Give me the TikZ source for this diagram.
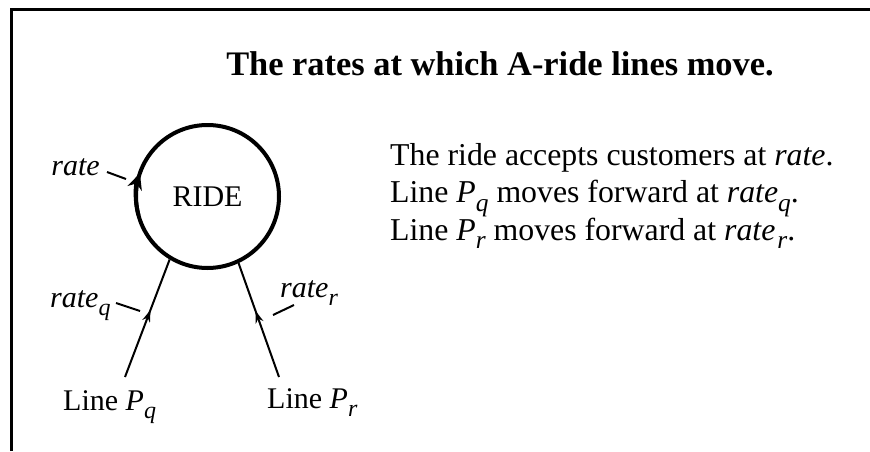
\documentclass[tikz,border=0pt]{standalone}
\usepackage{fontspec}
\setmainfont{Liberation Serif}
\usetikzlibrary{arrows.meta,decorations.markings}
\newcommand{\isub}[1]{\raisebox{-0.28em}{\fontsize{24}{24}\selectfont\itshape #1}}
\newcommand{\jsub}[1]{\raisebox{-0.28em}{\fontsize{25.4}{25.4}\selectfont\itshape #1}}
\begin{document}
\begin{tikzpicture}[x=1pt,y=1pt,
  txt/.style={inner sep=0pt, font=\fontsize{30}{37.5}\selectfont},
  desc/.style={inner sep=0pt, font=\fontsize{31.8}{37.5}\selectfont},
  ttl/.style={inner sep=0pt, font=\fontsize{34.4}{40}\selectfont\bfseries},
  feed/.style={line width=2pt, postaction={decorate},
    decoration={markings, mark=at position #1 with {\arrow{Stealth[length=12pt,width=8pt]}}}},
  tickline/.style={line width=2pt},
]
\useasboundingbox (0,0) rectangle (870,451);
\draw[line width=3pt] (11.5,0) -- (11.5,441.3) -- (870,441.3);

\node[ttl, anchor=base] (title) at (500,375) {The rates at which A-ride lines move.};

\node[circle, draw, line width=4pt, minimum size=143pt, inner sep=0pt,
      font=\fontsize{30}{36}\selectfont] (ride) at (207.5,254.5) {RIDE};
\draw[line width=4pt, -{Stealth[length=16pt,width=15pt]}]
  (ride.center) ++(195:71.5) arc[start angle=195, end angle=161, radius=71.5];

\coordinate (q0) at (125,74);
\coordinate (r0) at (279,74);
\draw[feed=0.57] (q0) -- (ride.239);
\draw[feed=0.58] (r0) -- (ride.295);

\node[txt, anchor=base east] (rate) at (100,276) {\textit{rate}};
\coordinate (t1a) at (107,279); \coordinate (t1b) at (126,272);
\draw[tickline] (t1a) -- (t1b);

\node[txt, anchor=base west] (rq) at (50,144) {\textit{rate}\isub{q}};
\coordinate (t2a) at (116,148); \coordinate (t2b) at (140,140);
\draw[tickline] (t2a) -- (t2b);

\node[txt, anchor=base west] (rr) at (280,154) {\textit{rate}\isub{r}};
\coordinate (t3a) at (273,136); \coordinate (t3b) at (294,146);
\draw[tickline] (t3a) -- (t3b);

\node[txt, anchor=base west] (lq) at (63,41) {Line \textit{P}\isub{q}};
\node[txt, anchor=base west] (lr) at (267,43) {Line \textit{P}\isub{r}};

\node[desc, anchor=base west] (d1) at (390,286) {The ride accepts customers at \textit{rate}.};
\node[desc, anchor=base west] (d2) at (390,248.5) {Line \textit{P}\jsub{q} moves forward at \textit{rate}\jsub{q}.};
\node[desc, anchor=base west] (d3) at (390,211) {Line \textit{P}\jsub{r} moves forward at \textit{rate}\kern2pt\jsub{r}.};
\end{tikzpicture}
\end{document}
